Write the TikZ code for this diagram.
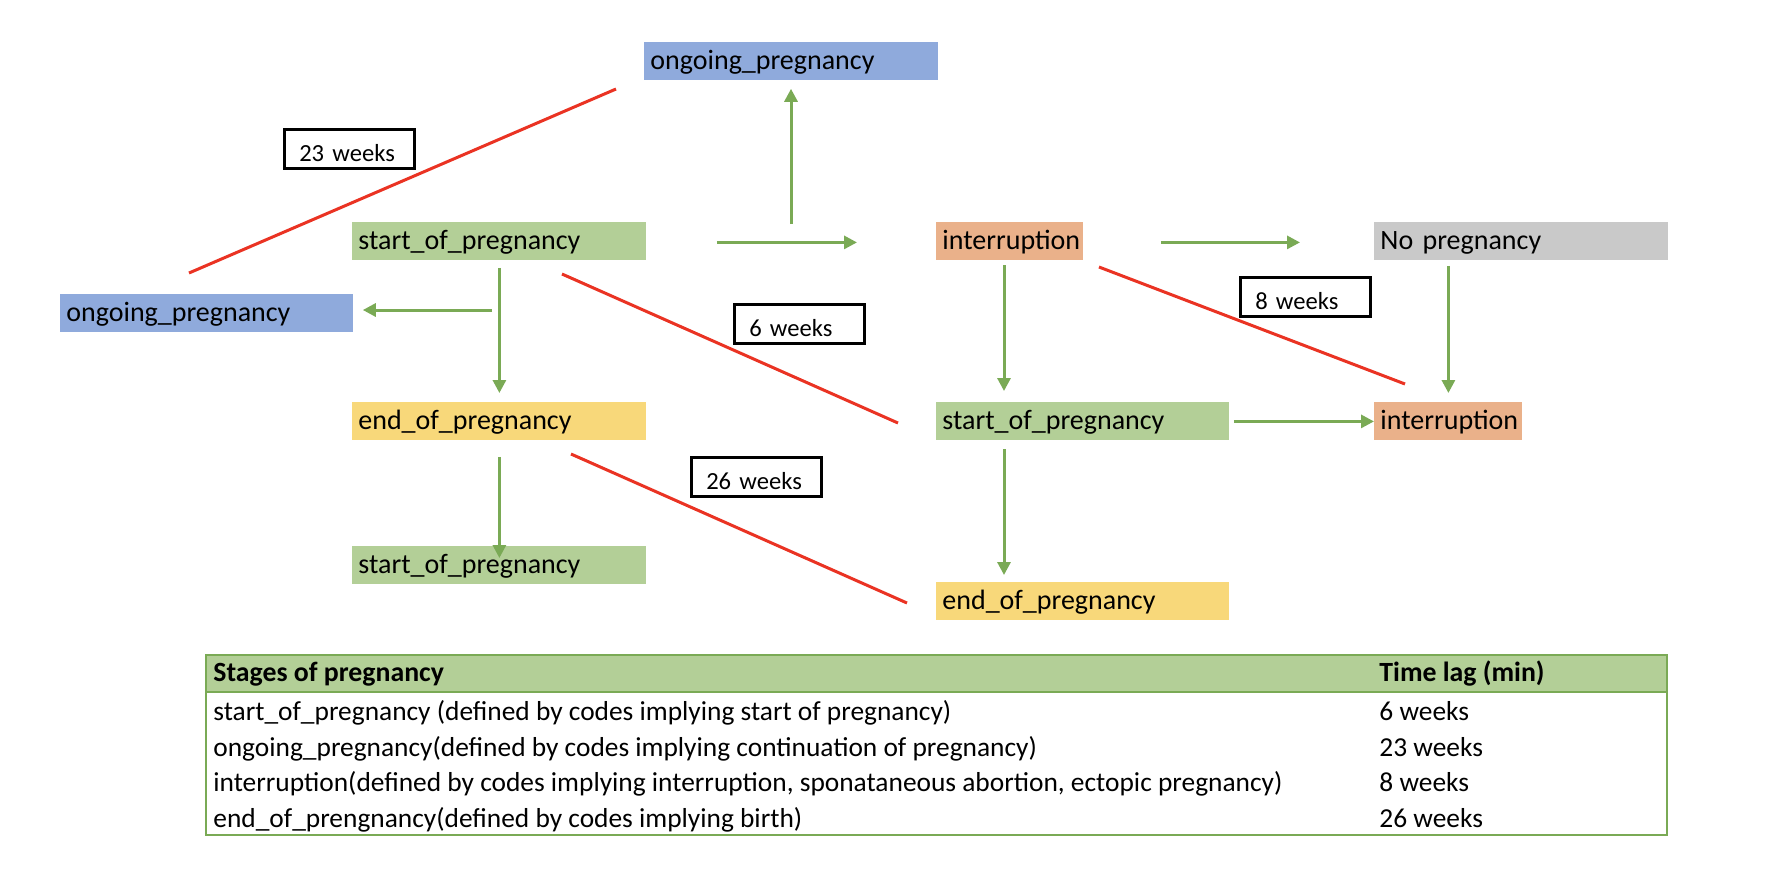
\documentclass[tikz,border=0pt]{standalone}
\usepackage{fontspec}
\setmainfont{Carlito}
\usetikzlibrary{arrows.meta}
\definecolor{cgreen}{RGB}{179,207,151}
\definecolor{cblue}{RGB}{143,170,220}
\definecolor{corange}{RGB}{234,177,138}
\definecolor{cyellow}{RGB}{248,216,122}
\definecolor{cgrey}{RGB}{201,201,201}
\definecolor{carrow}{RGB}{122,170,85}
\definecolor{cred}{RGB}{234,51,35}
\definecolor{cborder}{RGB}{122,170,85}
\tikzset{
  stagebox/.style={rectangle, anchor=north west, inner xsep=3pt, inner ysep=0pt,
    minimum height=19pt, align=left, text height=11.6pt, text depth=3.4pt,
    font=\fontsize{14}{16}\selectfont},
  lagbox/.style={rectangle, draw=black, line width=1.25pt, anchor=north west,
    inner xsep=7.5pt, inner ysep=0pt, minimum height=19.5pt, text width=50pt,
    align=left, text height=12.6pt, text depth=0pt, font=\fontsize{12.3}{14}\selectfont},
  arr/.style={draw=carrow, line width=1.5pt, -{Triangle[length=6.5pt,width=6.5pt]}},
  lagline/.style={draw=cred, line width=1.5pt},
  cell/.style={anchor=base west, inner sep=0pt, font=\fontsize{13.7}{16}\selectfont},
  hcell/.style={cell, font=\fontsize{13.9}{16}\selectfont\bfseries},
}
\begin{document}
\begin{tikzpicture}[x=0.5pt,y=-0.5pt]
\useasboundingbox (0,0) rectangle (1788,880);

% stage boxes
\node[stagebox, fill=cblue, text width=141pt] (o1) at (644,42) {ongoing\_pregnancy};
\node[stagebox, fill=cgreen, text width=141pt] (s1) at (352,222) {start\_of\_pregnancy};
\node[stagebox, fill=corange, text width=67.5pt] (i1) at (936,222) {interruption};
\node[stagebox, fill=cgrey, text width=141pt] (np) at (1374,222) {No pregnancy};
\node[stagebox, fill=cblue, text width=140.5pt] (o2) at (60,294) {ongoing\_pregnancy};
\node[stagebox, fill=cyellow, text width=141pt] (e1) at (352,402) {end\_of\_pregnancy};
\node[stagebox, fill=cgreen, text width=140.5pt] (s2) at (936,402) {start\_of\_pregnancy};
\node[stagebox, fill=corange, text width=68pt] (i2) at (1374,402) {interruption};
\node[stagebox, fill=cgreen, text width=141pt] (s3) at (352,546) {start\_of\_pregnancy};
\node[stagebox, fill=cyellow, text width=140.5pt] (e2) at (936,582) {end\_of\_pregnancy};

% lag labels
\node[lagbox] (l23) at (283,128) {23 weeks};
\node[lagbox] (l6) at (733,303) {6 weeks};
\node[lagbox] (l8) at (1239,276) {8 weeks};
\node[lagbox] (l26) at (690,456) {26 weeks};

% green arrows
\draw[arr, shorten <=35pt, shorten >=39.5pt] ([yshift=-0.5pt]s1.east) -- ([yshift=-0.5pt]i1.west);
\draw[arr, shorten <=38.5pt, shorten >=37pt] ([yshift=-0.5pt]i1.east) -- ([yshift=-0.5pt]np.west);
\coordinate (up) at (791,224);
\draw[arr, shorten >=4pt] (up) -- (up |- o1.south);
\draw[arr, shorten <=3.5pt, shorten >=4.5pt] (s1.south) -- (e1.north);
\coordinate (br) at (492,310);
\draw[arr, shorten >=4.5pt] (br) -- (br -| o2.east);
\draw[arr, shorten <=8pt, shorten >=-6pt] (e1.south) -- (s3.north);
\coordinate (ix) at (1004,260);
\draw[arr, shorten <=2.5pt, shorten >=5.5pt] (ix) -- (ix |- s2.north);
\draw[arr, shorten <=2.5pt, shorten >=4.5pt] (i2.north |- np.south) -- (i2.north);
\draw[arr, shorten <=2pt] (s2.east) -- (i2.west);
\coordinate (sx) at (1004,440);
\draw[arr, shorten <=4.5pt, shorten >=3.5pt] (sx) -- (sx |- e2.north);

% red lag lines
\coordinate (r1a) at (189,273); \coordinate (r1b) at (616,89);
\coordinate (r2a) at (562,274); \coordinate (r2b) at (898,423);
\coordinate (r3a) at (1099,267); \coordinate (r3b) at (1405,384);
\coordinate (r4a) at (571,454); \coordinate (r4b) at (907,603);
\draw[lagline] (r1a) -- (r1b);
\draw[lagline] (r2a) -- (r2b);
\draw[lagline] (r3a) -- (r3b);
\draw[lagline] (r4a) -- (r4b);

% table
\fill[cgreen] (206,655) rectangle (1667,692);
\draw[cborder, line width=0.75pt] (206,692) -- (1667,692);
\draw[cborder, line width=1.25pt] (206,655) rectangle (1667,835);
\node[hcell] (h1) at (213,681) {Stages of pregnancy};
\node[hcell] (h2) at (1379,681) {Time lag (min)};
\node[cell] (a1) at (213,720) {start\_of\_pregnancy (defined by codes implying start of pregnancy)};
\node[cell] (b1) at (1379,720) {6 weeks};
\node[cell] (a2) at (213,756) {ongoing\_pregnancy(defined by codes implying continuation of pregnancy)};
\node[cell] (b2) at (1379,756) {23 weeks};
\node[cell] (a3) at (213,791) {interruption(defined by codes implying interruption, sponataneous abortion, ectopic pregnancy)};
\node[cell] (b3) at (1379,791) {8 weeks};
\node[cell] (a4) at (213,827) {end\_of\_prengnancy(defined by codes implying birth)};
\node[cell] (b4) at (1379,827) {26 weeks};
\end{tikzpicture}
\end{document}
